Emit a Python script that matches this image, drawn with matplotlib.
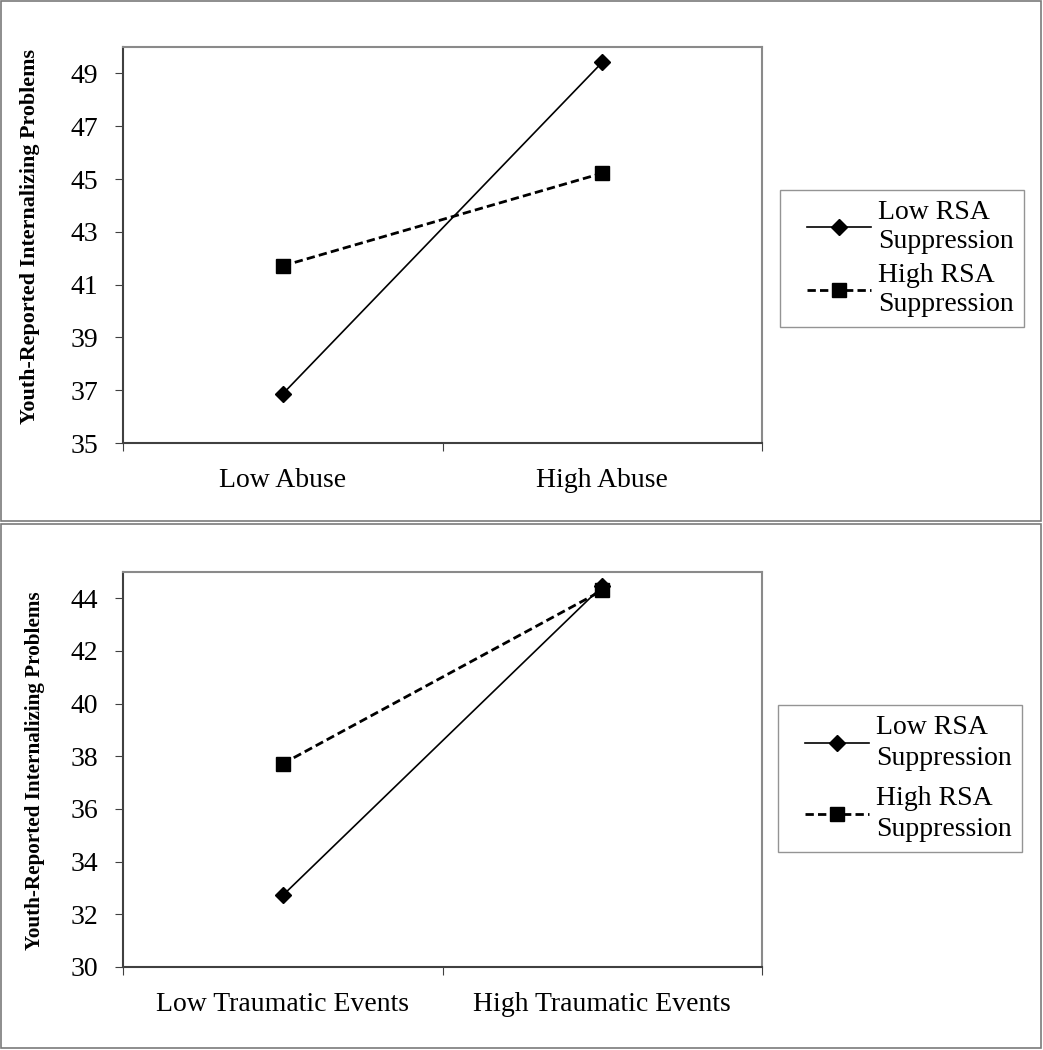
import matplotlib
matplotlib.use("Agg")
import matplotlib.pyplot as plt
from matplotlib.patches import Rectangle
from matplotlib.legend_handler import HandlerLine2D

# Data
abuseLabels = ["Low Abuse", "High Abuse"]
abuseLowRSA = [36.86, 49.42]
abuseHighRSA = [41.71, 45.22]

traumaLabels = ["Low Traumatic Events", "High Traumatic Events"]
traumaLowRSA = [32.72, 44.46]
traumaHighRSA = [37.72, 44.30]

seriesNames = ["Low RSA\nSuppression", "High RSA\nSuppression"]
yLabel = "Youth-Reported Internalizing Problems"

plt.rcParams['font.family'] = ['Liberation Serif', 'DejaVu Serif']

W, H = 1043, 1050
fig = plt.figure(figsize=(W / 100, H / 100), dpi=100)


def px_box(left, top, right, bottom):
    return [left / W, 1 - bottom / H, (right - left) / W, (bottom - top) / H]


# Outer frames around each panel
for top, bottom in [(1, 521), (524, 1048)]:
    fig.patches.append(Rectangle((1 / W, 1 - bottom / H), (W - 3) / W, (bottom - top) / H,
                                 transform=fig.transFigure, fill=False,
                                 edgecolor="#7a7a7a", linewidth=1.2))


def panel(box, labels, lowVals, highVals, ylim, yticks, legendTop, legendLeft,
          yLabelX, yLabelY, yLabelSize, labelSpacing, lineSpacing):
    ax = fig.add_axes(box)
    x = list(range(len(labels)))
    ax.plot(x, lowVals, '-', color='black', linewidth=1.2, marker='D', markersize=8.5,
            label=seriesNames[0])
    ax.plot(x, highVals, '--', color='black', linewidth=2.0, marker='s', markersize=10,
            dashes=(3, 1.5), label=seriesNames[1])
    ax.set_xlim(-0.5, 1.5)
    ax.set_ylim(*ylim)
    ax.set_yticks(yticks)
    ax.set_xticks([-0.5, 0.5, 1.5])
    ax.set_xticklabels([])
    ax.set_xticks(x, minor=True)
    ax.set_xticklabels(labels, minor=True, fontsize=20)
    ax.tick_params(axis='x', which='minor', length=0, pad=18)
    ax.tick_params(axis='x', which='major', length=6, color='#404040')
    ax.tick_params(axis='y', labelsize=20, length=6, pad=12, color='#404040')
    for s in ['left', 'bottom']:
        ax.spines[s].set_color('#404040')
        ax.spines[s].set_linewidth(1.5)
    for s in ['top', 'right']:
        ax.spines[s].set_color('#8a8a8a')
        ax.spines[s].set_linewidth(1.5)
    # Legend: handle line starts a bit inside the frame, as in the original
    leg = fig.legend(handles=ax.get_lines(), loc='upper left',
                     bbox_to_anchor=(legendLeft / W, 1 - legendTop / H), fontsize=20,
                     frameon=True, fancybox=False, borderaxespad=0,
                     handlelength=2.94, handletextpad=0.25, labelspacing=labelSpacing,
                     borderpad=0.35,
                     handler_map={ax.get_lines()[0]: HandlerLine2D(xpad=0.62),
                                  ax.get_lines()[1]: HandlerLine2D(xpad=0.62)})
    leg.get_frame().set_edgecolor('#7a7a7a')
    leg.get_frame().set_linewidth(1.0)
    for t in leg.get_texts():
        t.set_linespacing(lineSpacing)
    fig.text(yLabelX / W, 1 - yLabelY / H, yLabel, rotation=90, ha='center', va='center',
             fontsize=yLabelSize, fontweight='bold')
    return ax


panel(px_box(123, 47, 762, 443), abuseLabels, abuseLowRSA, abuseHighRSA,
      (35, 50), range(35, 50, 2), 190, 780, 30, 236, 15.8, 0.3, 1.24)
panel(px_box(123, 572, 762, 967), traumaLabels, traumaLowRSA, traumaHighRSA,
      (30, 45), range(30, 45, 2), 705, 778, 35, 771, 15.2, 0.55, 1.32)

fig.savefig("out.png", dpi=100)
